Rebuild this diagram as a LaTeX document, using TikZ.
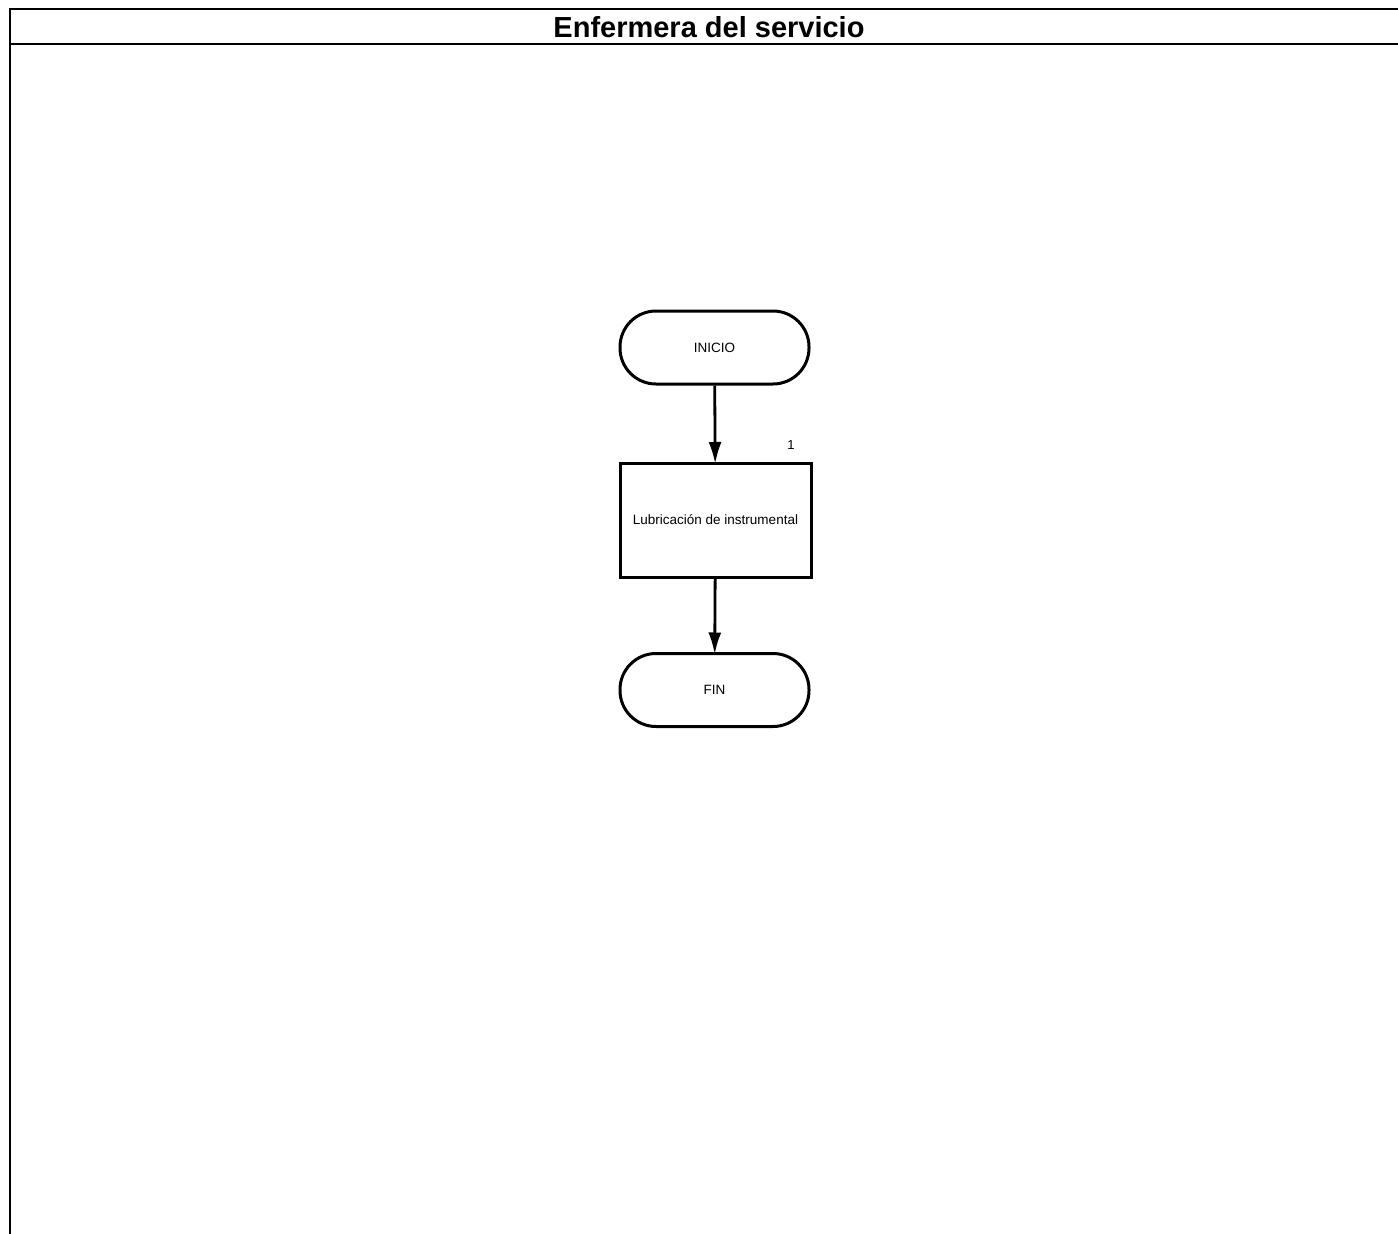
\documentclass[tikz,border=0pt]{standalone}
\usepackage{fontspec}
\setmainfont{Liberation Sans}
\usetikzlibrary{arrows.meta, positioning}

\tikzset{
  frameline/.style={line width=2.5pt},
  terminal/.style={draw, line width=3pt, rounded corners=36pt,
    minimum width=189pt, minimum height=73pt, inner sep=0pt,
    font=\fontsize{13.5}{16}\selectfont},
  process/.style={draw, line width=3pt, minimum width=191pt,
    minimum height=114pt, inner sep=0pt, font=\fontsize{13.5}{16}\selectfont},
  flow/.style={line width=2.8pt, shorten >=-2.5pt,
    -{Latex[length=22pt,width=13pt]}}
}

\begin{document}
\begin{tikzpicture}[x=1pt, y=-1pt]
  \useasboundingbox (0,0) rectangle (1398,1234);
  % lane frame
  \draw[frameline] (9,9) -- (1398,9);
  \draw[frameline] (9,44) -- (1398,44);
  \draw[frameline] (10,8) -- (10,1234);
  \node[font=\fontsize{29}{34}\selectfont\bfseries] (lane) at (709,27) {Enfermera del servicio};
  % flow
  \node[terminal] (inicio) at (714.5,347.5) {INICIO};
  \node[process]  (lubric) at (715.5,520) {Lubricación de instrumental};
  \node[font=\fontsize{13}{15}\selectfont] (num) at (791,445) {1};
  \node[terminal] (fin) at (714.5,690) {FIN};
  \draw[flow] (inicio) -- (lubric);
  \draw[flow] (lubric) -- (fin);
\end{tikzpicture}
\end{document}
